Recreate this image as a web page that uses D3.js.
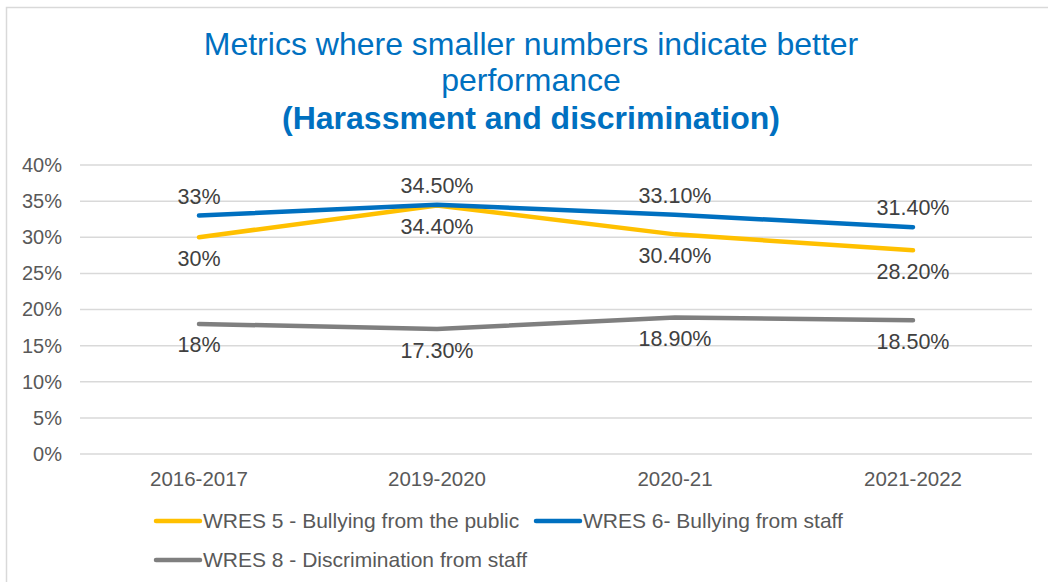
<!DOCTYPE html>
<html>
<head>
<meta charset="utf-8">
<script src="https://cdn.jsdelivr.net/npm/d3@7"></script>
<style>
  html, body { margin: 0; padding: 0; background: #fff; }
  svg { display: block; font-family: "Liberation Sans", Arial, sans-serif; }
</style>
</head>
<body>
<svg id="chart" width="1048" height="582"></svg>
<script>
// Reporting years
const categories = ["2016-2017", "2019-2020", "2020-21", "2021-2022"];

// Percentages per year
const bullyingPublic = [30, 34.4, 30.4, 28.2];
const bullyingStaff = [33, 34.5, 33.1, 31.4];
const discriminationStaff = [18, 17.3, 18.9, 18.5];

const yTicks = [0, 5, 10, 15, 20, 25, 30, 35, 40];

const seriesNames = [
  "WRES 5 - Bullying from the public",
  "WRES 6- Bullying from staff",
  "WRES 8 - Discrimination from staff"
];

const series = [
  { name: seriesNames[0], values: bullyingPublic, color: "#FFC000", labelPos: "below" },
  { name: seriesNames[1], values: bullyingStaff, color: "#0070C0", labelPos: "above" },
  { name: seriesNames[2], values: discriminationStaff, color: "#7F7F7F", labelPos: "below" }
];

const svg = d3.select("#chart");

// outer chart frame
svg.append("rect")
  .attr("x", 6.5).attr("y", 7.5)
  .attr("width", 1060).attr("height", 600)
  .attr("fill", "#fff")
  .attr("stroke", "#d9d9d9").attr("stroke-width", 1.5);

// title
const title = svg.append("text")
  .attr("text-anchor", "middle")
  .attr("fill", "#0070C0");
title.append("tspan").attr("x", 531).attr("y", 55)
  .attr("font-size", 32).text("Metrics where smaller numbers indicate better");
title.append("tspan").attr("x", 531).attr("y", 91)
  .attr("font-size", 32).text("performance");
title.append("tspan").attr("x", 531).attr("y", 129)
  .attr("font-size", 32).attr("font-weight", "bold").text("(Harassment and discrimination)");

const plot = { left: 80, right: 1032, top: 165, bottom: 454 };

const x = d3.scaleBand().domain(categories).range([plot.left, plot.right]);
const y = d3.scaleLinear().domain([0, 40]).range([plot.bottom, plot.top]);

// gridlines
svg.append("g")
  .selectAll("line")
  .data(yTicks)
  .join("line")
  .attr("x1", plot.left).attr("x2", plot.right)
  .attr("y1", d => y(d)).attr("y2", d => y(d))
  .attr("stroke", "#d9d9d9").attr("stroke-width", 1.5);

// y axis labels
const yAxis = svg.append("g")
  .attr("transform", `translate(${plot.left},0)`)
  .call(d3.axisLeft(y).tickValues(yTicks).tickFormat(d => d + "%").tickSize(0).tickPadding(18));
yAxis.select(".domain").remove();
yAxis.selectAll("text")
  .attr("font-family", "Liberation Sans, Arial, sans-serif")
  .attr("font-size", 20).attr("fill", "#595959");

// x axis labels
const xAxis = svg.append("g")
  .attr("transform", `translate(0,${plot.bottom})`)
  .call(d3.axisBottom(x).tickSize(0).tickPadding(17));
xAxis.select(".domain").remove();
xAxis.selectAll("text")
  .attr("font-family", "Liberation Sans, Arial, sans-serif")
  .attr("font-size", 20.5).attr("fill", "#595959");

const cx = d => x(d) + x.bandwidth() / 2;

const line = d3.line()
  .x((d, i) => cx(categories[i]))
  .y(d => y(d));

const fmt = v => Number.isInteger(v) ? v + "%" : v.toFixed(2) + "%";

// lines: grey first, then yellow, then blue on top
[series[2], series[0], series[1]].forEach(s => {
  svg.append("path")
    .datum(s.values)
    .attr("d", line)
    .attr("fill", "none")
    .attr("stroke", s.color)
    .attr("stroke-width", 4.5)
    .attr("stroke-linecap", "round")
    .attr("stroke-linejoin", "round");
});

// data labels
series.forEach(s => {
  svg.append("g")
    .selectAll("text")
    .data(s.values)
    .join("text")
    .attr("x", (d, i) => cx(categories[i]))
    .attr("y", d => y(d) + (s.labelPos === "above" ? -12 : 28.5))
    .attr("text-anchor", "middle")
    .attr("font-size", 21.5)
    .attr("fill", "#404040")
    .text(d => fmt(d));
});

// legend
const legendItems = [
  { s: series[0], x: 156, y: 521 },
  { s: series[1], x: 536, y: 521 },
  { s: series[2], x: 156, y: 560 }
];
const legend = svg.append("g");
legendItems.forEach(it => {
  legend.append("line")
    .attr("x1", it.x).attr("x2", it.x + 44)
    .attr("y1", it.y).attr("y2", it.y)
    .attr("stroke", it.s.color).attr("stroke-width", 4.5)
    .attr("stroke-linecap", "round");
  legend.append("text")
    .attr("x", it.x + 47).attr("y", it.y + 7)
    .attr("font-size", 21).attr("fill", "#595959")
    .text(it.s.name);
});
</script>
</body>
</html>
